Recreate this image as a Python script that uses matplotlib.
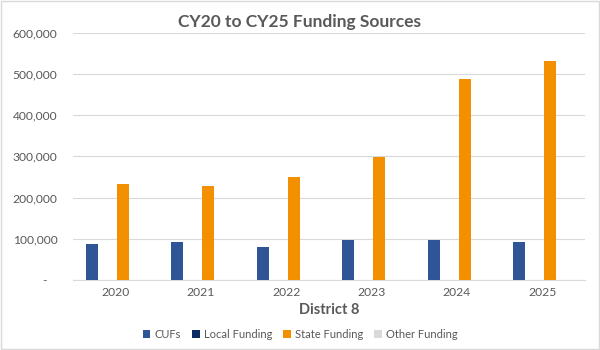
import matplotlib.pyplot as plt
import numpy as np
from matplotlib.patches import Rectangle
from matplotlib.ticker import FuncFormatter

years = ['2020', '2021', '2022', '2023', '2024', '2025']
cufs = [87500, 91000, 81000, 96000, 96000, 91500]
local_funding = [0, 0, 0, 0, 0, 0]
state_funding = [233000, 227000, 249000, 298000, 487000, 532000]
other_funding = [0, 0, 0, 0, 0, 0]

series = [
    ('CUFs', cufs, '#2F5597'),
    ('Local Funding', local_funding, '#0B2A63'),
    ('State Funding', state_funding, '#F39000'),
    ('Other Funding', other_funding, '#D9D9D9'),
]

plt.rcParams['font.family'] = ['Lato', 'DejaVu Sans']
txt = '#595959'

fig = plt.figure(figsize=(6, 3.5), dpi=100)
ax = fig.add_axes([0.121, 0.2, 0.854, 0.7066])

x = np.arange(len(years))
slot = 0.1815
width = 0.14
for i, (name, vals, color) in enumerate(series):
    ax.bar(x + (i - 1.5) * slot, vals, width, color=color, label=name, zorder=3)

ax.set_xlim(-0.5, len(years) - 0.5)
ax.set_ylim(0, 600000)
ax.set_yticks(range(0, 600001, 100000))
ax.yaxis.set_major_formatter(FuncFormatter(lambda v, p: '-   ' if v == 0 else f'{int(v):,}'))
ax.set_xticks(x)
ax.set_xticklabels(years)
ax.tick_params(length=0, colors=txt, labelsize=8.7)
ax.tick_params(axis='y', pad=11)
ax.tick_params(axis='x', pad=5)
ax.grid(axis='y', color='#D9D9D9', linewidth=0.8, zorder=0)
for s in ['top', 'right', 'left']:
    ax.spines[s].set_visible(False)
ax.spines['bottom'].set_color('#D9D9D9')

ax.set_xlabel('District 8', color=txt, fontsize=10.5, fontweight='bold', labelpad=4)
fig.text(0.5, 0.937, 'CY20 to CY25 Funding Sources', ha='center', va='center',
         fontsize=12.5, fontweight='bold', color=txt)

leg = fig.legend(loc='center', bbox_to_anchor=(0.5, 0.045), ncol=4, frameon=False,
                 fontsize=8, handlelength=0.7, handleheight=0.7, handletextpad=0.35,
                 columnspacing=1.0, labelcolor=txt)

fig.patches.append(Rectangle((0.002, 0.003), 0.996, 0.994, transform=fig.transFigure,
                             fill=False, edgecolor='#D9D9D9', linewidth=1))

fig.savefig('out.png', dpi=100, facecolor='white')
